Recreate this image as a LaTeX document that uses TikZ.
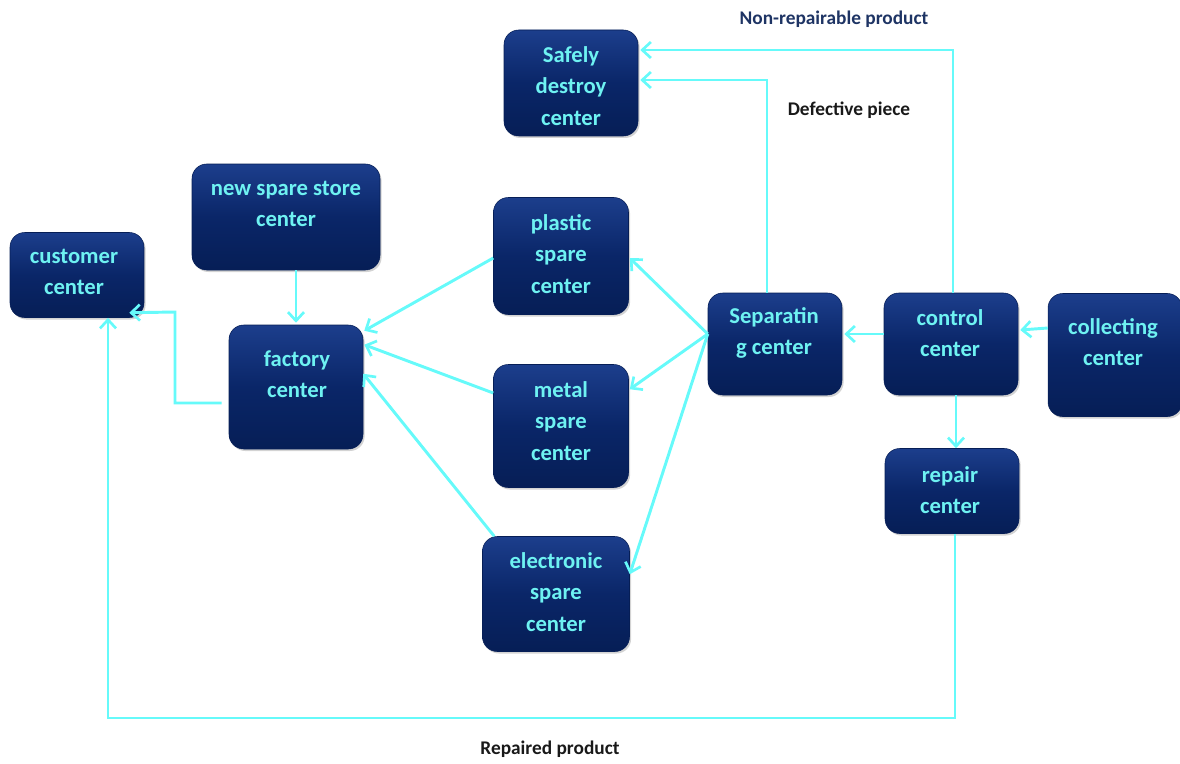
\documentclass[tikz,border=0pt]{standalone}
\usepackage{fontspec}
\setmainfont{Carlito}
\usetikzlibrary{arrows.meta,shadows,calc}
\definecolor{navy}{RGB}{10,38,104}
\definecolor{navytop}{RGB}{28,62,140}
\definecolor{navybot}{RGB}{6,30,86}
\definecolor{boxtxt}{RGB}{110,242,242}
\definecolor{link}{RGB}{102,250,250}
\definecolor{lbl}{RGB}{30,52,100}
\tikzset{
  box/.style={rounded corners=11pt, top color=navytop, bottom color=navybot, middle color=navy,
    draw=navybot, line width=0.4pt, drop shadow={shadow xshift=1.2pt,shadow yshift=-1.5pt,opacity=0.35},
    inner sep=0pt},
  btext/.style={text=boxtxt, font=\fontsize{17}{23.5}\selectfont\bfseries, align=center, inner sep=0pt},
  lab/.style={font=\fontsize{14.5}{17}\selectfont\bfseries, inner sep=0pt},
  conn/.style={draw=link, line width=2.2pt, -{Straight Barb[length=6.5pt,width=12pt,line width=2pt]}},
}
\begin{document}
\begin{tikzpicture}[x=0.75pt,y=-0.75pt]
\useasboundingbox (0,0) rectangle (1180,763);
% boxes
\node[box, minimum width=134*0.75pt, minimum height=106*0.75pt] (safe) at (571,83) {};
\node[box, minimum width=188*0.75pt, minimum height=106*0.75pt] (newsp) at (286,217) {};
\node[box, minimum width=134*0.75pt, minimum height=85*0.75pt] (cust) at (77,275) {};
\node[box, minimum width=135*0.75pt, minimum height=117*0.75pt] (plast) at (561,256) {};
\node[box, minimum width=134*0.75pt, minimum height=124*0.75pt] (fact) at (296,387) {};
\node[box, minimum width=134*0.75pt, minimum height=102*0.75pt] (sep) at (775,344) {};
\node[box, minimum width=134*0.75pt, minimum height=102*0.75pt] (ctrl) at (951,344) {};
\node[box, minimum width=134*0.75pt, minimum height=123*0.75pt] (coll) at (1115,355) {};
\node[box, minimum width=135*0.75pt, minimum height=123*0.75pt] (metal) at (561,426) {};
\node[box, minimum width=134*0.75pt, minimum height=85*0.75pt] (rep) at (952,491) {};
\node[box, minimum width=147*0.75pt, minimum height=115*0.75pt] (elec) at (556,594) {};
% box texts
\node[btext] (tsafe) at (571,86) {Safely\\destroy\\center};
\node[btext] (tnewsp) at (286,204) {new spare store\\center};
\node[btext] (tcust) at (74,272) {customer\\center};
\node[btext] (tplast) at (561,254) {plastic\\spare\\center};
\node[btext] (tfact) at (297,374) {factory\\center};
\node[btext] (tsep) at (774,333) {Separatin\\g center};
\node[btext] (tctrl) at (950,333) {control\\center};
\node[btext] (tcoll) at (1113,342) {collecting\\center};
\node[btext] (tmetal) at (561,421) {metal\\spare\\center};
\node[btext] (trep) at (950,490) {repair\\center};
\node[btext] (telec) at (556,592) {electronic\\spare\\center};
% labels
\node[lab, text=lbl] (lnon) at (834,19) {Non-repairable product};
\node[lab, text=black!90] (ldef) at (849,110) {Defective piece};
\node[lab, text=black!90] (lrep) at (550,749) {Repaired product};
% connectors
\coordinate (sepL) at ($(sep.west)+(0,-10)$);
\draw[conn] ($(ctrl.north)+(2,0)$) |- ($(safe.east)+(2,-33)$);
\draw[conn] ($(sep.north)+(-8,0)$) |- ($(safe.east)+(2,-3)$);
\draw[conn] (sepL) -- ($(plast.east)+(1,2)$);
\draw[conn] (sepL) -- ($(metal.north east)+(1,25)$);
\draw[conn] (sepL) -- ($(elec.north east)+(0,38)$);
\draw[conn] ($(ctrl.west)+(0,-10)$) -- ($(sep.east)+(2,-10)$);
\draw[conn] ($(coll.west)+(0,-27)$) -- ($(ctrl.east)+(2,-14)$);
\draw[conn] ($(ctrl.south)+(5,0)$) -- ($(rep.north)+(4,0)$);
\coordinate (rb) at (108,718);
\draw[conn] ($(rep.south)+(3,0)$) |- (rb) -- ($(cust.south)+(31,0)$);
\coordinate (fk) at (175,312);
\draw[conn] ($(fact.west)+(-7,16)$) -| (fk) -- ($(cust.south east)+(-15,-5)$);
\draw[conn] (newsp.south -| fact.north) -- ($(fact.north)+(0,-2)$);
\draw[conn] ($(plast.west)+(0,2)$) -- ($(fact.north east)+(1,6)$);
\draw[conn] ($(metal.west)+(0,-33)$) -- ($(fact.north east)+(1,20)$);
\draw[conn] ($(elec.north west)+(12,0)$) -- ($(fact.north east)+(0,49)$);
\end{tikzpicture}
\end{document}
